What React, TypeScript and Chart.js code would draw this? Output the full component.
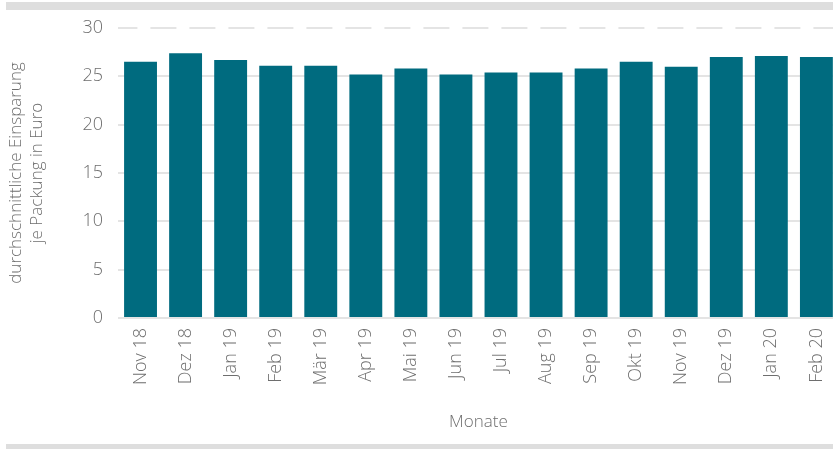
import React, { useEffect, useRef } from "react";
import { Chart, registerables } from "chart.js";

Chart.register(...registerables);

const categories = [
  "Nov 18", "Dez 18", "Jan 19", "Feb 19", "Mär 19", "Apr 19", "Mai 19", "Jun 19",
  "Jul 19", "Aug 19", "Sep 19", "Okt 19", "Nov 19", "Dez 19", "Jan 20", "Feb 20",
];
const savings = [26.5, 27.4, 26.7, 26.1, 26.1, 25.2, 25.8, 25.2, 25.4, 25.4, 25.8, 26.5, 26.0, 27.0, 27.1, 27.0];
const yTitle = ["durchschnittliche Einsparung", "je Packung in Euro"];
const xTitle = "Monate";

const FONT = "'Open Sans', sans-serif";
const TEXT = "#6e6e6e";

export default function App() {
  const ref = useRef<HTMLCanvasElement | null>(null);

  useEffect(() => {
    if (!ref.current) return;
    const chart = new Chart(ref.current, {
      type: "bar",
      data: {
        labels: categories,
        datasets: [
          {
            data: savings,
            backgroundColor: "#006b7f",
            barPercentage: 0.73,
            categoryPercentage: 1,
          },
        ],
      },
      options: {
        animation: false,
        responsive: false,
        maintainAspectRatio: false,
        layout: { padding: { top: 28, left: 0, right: 0, bottom: 0 } },
        plugins: { legend: { display: false }, tooltip: { enabled: false } },
        scales: {
          x: {
            grid: { display: false, drawTicks: false },
            border: { display: false },
            ticks: {
              color: TEXT,
              font: { family: FONT, size: 18, weight: 300 },
              maxRotation: 90,
              minRotation: 90,
              padding: 10,
              autoSkip: false,
            },
            title: {
              display: true,
              text: xTitle,
              color: TEXT,
              font: { family: FONT, size: 17, weight: 300 },
              padding: { top: 0, bottom: 17 },
            },
            afterFit: (s: any) => {
              s.height = 131;
            },
          },
          y: {
            min: 0,
            max: 30,
            ticks: {
              stepSize: 5,
              color: TEXT,
              font: { family: FONT, size: 18, weight: 300 },
              padding: 15,
            },
            grid: { color: "#e4e4e4", lineWidth: 2, drawTicks: false },
            border: {
              display: false,
              dash: (ctx: any) => (ctx.tick && ctx.tick.value === 30 ? [26, 13] : []),
              dashOffset: 6.6,
            },
            title: {
              display: true,
              text: yTitle,
              color: TEXT,
              font: { family: FONT, size: 17, weight: 300, lineHeight: 1.24 },
              padding: { top: 6, bottom: 0 },
            },
            afterFit: (s: any) => {
              s.width = 118;
            },
          },
        },
      },
    });
    return () => chart.destroy();
  }, []);

  return (
    <div
      style={{
        position: "absolute",
        left: 0,
        top: 0,
        width: 833,
        height: 449,
        overflow: "hidden",
        background: "#fff",
      }}
    >
      <div style={{ position: "absolute", left: 6, top: 2, width: 840, height: 8, background: "#dedede" }} />
      <div style={{ position: "absolute", left: 6, top: 444, width: 840, height: 5, background: "#dedede" }} />
      <canvas
        ref={ref}
        width={848}
        height={449}
        style={{ position: "absolute", left: 0, top: 0, width: 848, height: 449 }}
      />
    </div>
  );
}
